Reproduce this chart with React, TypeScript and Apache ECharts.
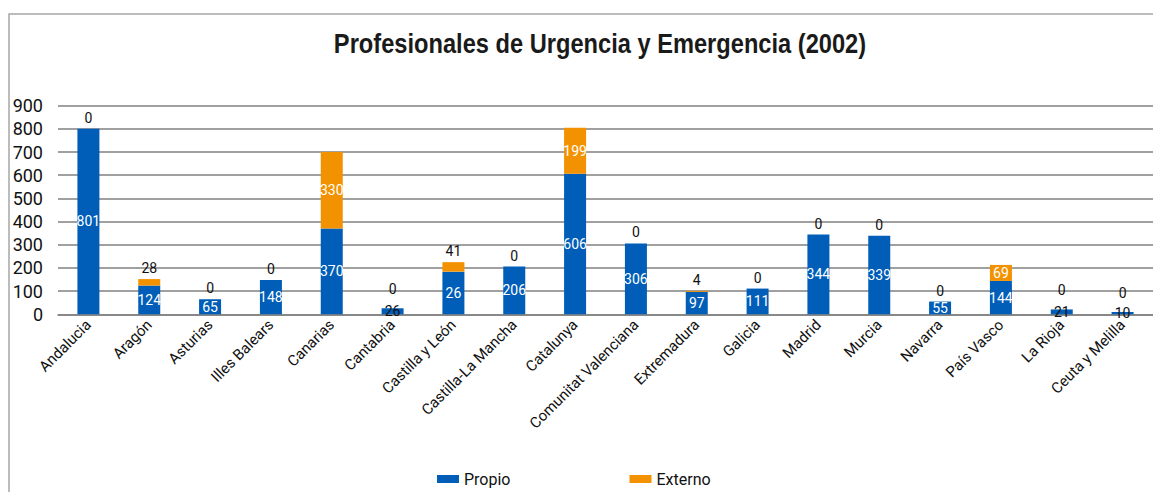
import React, { useEffect, useRef } from "react";
import * as echarts from "echarts";

const title = "Profesionales de Urgencia y Emergencia (2002)";
const regions = [
  "Andalucia", "Aragón", "Asturias", "Illes Balears", "Canarias", "Cantabria",
  "Castilla y León", "Castilla-La Mancha", "Catalunya", "Comunitat Valenciana",
  "Extremadura", "Galicia", "Madrid", "Murcia", "Navarra", "País Vasco",
  "La Rioja", "Ceuta y Melilla",
];
// bar heights as drawn
const propio = [801, 124, 65, 148, 370, 26, 184, 206, 606, 306, 97, 111, 344, 339, 55, 144, 21, 10];
// values printed on the bars (the source prints 26 on the Castilla y León bar)
const propioShown = [801, 124, 65, 148, 370, 26, 26, 206, 606, 306, 97, 111, 344, 339, 55, 144, 21, 10];
const externo = [0, 28, 0, 0, 330, 0, 41, 0, 199, 0, 4, 0, 0, 0, 0, 69, 0, 0];
const yTicks = { min: 0, max: 900, interval: 100 };

const FONT = "Roboto, 'Liberation Sans', sans-serif";
const TITLE_FONT = "'Liberation Sans', Arial, sans-serif";
const BLUE = "#005EB8";
const ORANGE = "#F39200";

export default function App() {
  const ref = useRef<HTMLDivElement>(null);
  useEffect(() => {
    document.documentElement.style.overflow = "hidden";
    document.body.style.overflow = "hidden";
    if (!ref.current) return;
    const chart = echarts.init(ref.current, null, { renderer: "svg" });
    chart.setOption({
      animation: false,
      backgroundColor: "#fff",
      textStyle: { fontFamily: FONT },
      graphic: [
        {
          type: "polyline",
          shape: { points: [[1, 1000], [1, 6], [2000, 6]] },
          style: { stroke: "#a6a6a6", lineWidth: 1.5, fill: null },
          silent: true,
        },
        {
          type: "text",
          x: 592,
          y: 35,
          scaleX: 0.876,
          style: {
            text: title,
            textAlign: "center",
            textVerticalAlign: "middle",
            font: `bold 27px ${TITLE_FONT}`,
            fill: "#1a1a1a",
          },
        },
      ],
      legend: {
        left: 429,
        top: 463,
        padding: 0,
        itemWidth: 22,
        itemHeight: 8,
        itemGap: 119,
        icon: "rect",
        textStyle: { fontSize: 16, color: "#111", fontFamily: FONT },
        data: ["Propio", "Externo"],
      },
      grid: { left: 50, right: -20, top: 97.7, bottom: 177.7, containLabel: false },
      xAxis: {
        type: "category",
        data: regions,
        axisLine: { lineStyle: { color: "#808080", width: 1.5 } },
        axisTick: { show: false },
        axisLabel: {
          rotate: 45,
          interval: 0,
          fontSize: 15,
          color: "#111",
          margin: 8,
          fontFamily: FONT,
        },
      },
      yAxis: {
        type: "value",
        min: yTicks.min,
        max: yTicks.max,
        interval: yTicks.interval,
        axisLine: { show: false },
        axisTick: { show: false },
        axisLabel: { fontSize: 18, color: "#111", margin: 15, fontFamily: FONT },
        splitLine: { lineStyle: { color: "#808080", width: 1.5 } },
      },
      series: [
        {
          name: "Propio",
          type: "bar",
          stack: "t",
          barWidth: 22,
          itemStyle: { color: BLUE },
          data: propio.map((v) => ({
            value: v,
            label: { color: v < 30 ? "#111" : "#fff" },
          })),
          label: {
            show: true,
            position: "inside",
            fontSize: 14,
            fontFamily: FONT,
            formatter: (p: any) => String(propioShown[p.dataIndex]),
          },
        },
        {
          name: "Externo",
          type: "bar",
          stack: "t",
          barWidth: 22,
          itemStyle: { color: ORANGE },
          data: externo.map((v, i) => ({
            value: v,
            label:
              v < 50
                ? { position: "top", color: "#111", distance: propio[i] < 30 ? 12 : 4 }
                : { position: "inside", color: "#fff" },
          })),
          label: { show: true, fontSize: 14, fontFamily: FONT },
        },
      ],
    });
    return () => chart.dispose();
  }, []);
  return <div ref={ref} style={{ width: 1145, height: 484 }} />;
}
